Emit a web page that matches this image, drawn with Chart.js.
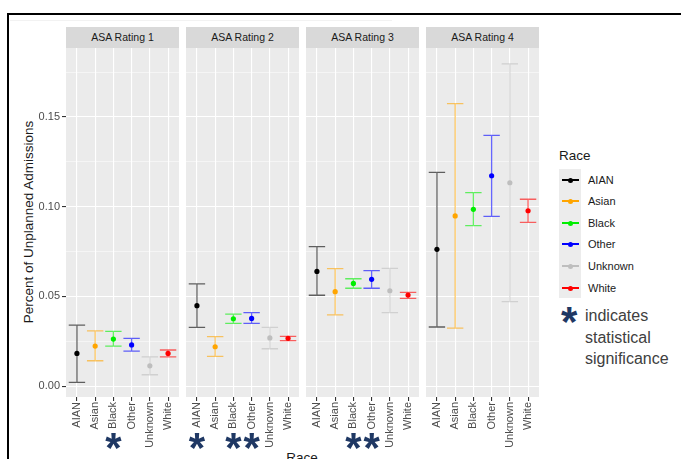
<!DOCTYPE html>
<html>
<head>
<meta charset="utf-8">
<script src="https://cdn.jsdelivr.net/npm/chart.js@4/dist/chart.umd.min.js"></script>
<style>
  body { margin: 0; background: #fff; font-family: "Liberation Sans", Arial, sans-serif; }
  #wrap { position: relative; width: 681px; height: 459px; overflow: hidden; }
  canvas { position: absolute; top: 48px; }
  .strip { position: absolute; top: 27px; height: 21px; background: #d9d9d9; color: #1a1a1a;
           font-size: 10.5px; line-height: 21px; text-align: center; }
  .leg-item { position: absolute; left: 588px; font-size: 11px; color: #1a1a1a; line-height: 12px; }
  .leg-line { position: absolute; left: 562px; width: 17px; height: 1.3px; }
  .leg-dot { position: absolute; width: 5px; height: 5px; border-radius: 50%; left: 568px; }
</style>
</head>
<body>
<div id="wrap">
  <div style="position:absolute;left:7px;top:13px;width:674px;height:2px;background:#000"></div>
  <div style="position:absolute;left:7px;top:13px;width:2px;height:446px;background:#000"></div>
  <div style="position:absolute;left:10px;top:20px;width:382px;height:1px;background:#f2f2f2"></div>
  <div id="ytitle" style="position:absolute;left:28px;top:222px;transform:translate(-50%,-50%) rotate(-90deg);white-space:nowrap;font-size:13.5px;color:#1a1a1a">Percent of Unplanned Admissions</div>
  <div style="position:absolute;left:302px;top:450px;transform:translateX(-50%);font-size:13.5px;color:#1a1a1a">Race</div>
  <div id="legend"></div>
</div>
<script>
// data
const races = ['AIAN', 'Asian', 'Black', 'Other', 'Unknown', 'White'];
const panels = ['ASA Rating 1', 'ASA Rating 2', 'ASA Rating 3', 'ASA Rating 4'];
const raceColors = ['#000000', '#ffa500', '#00ee00', '#0000ff', '#bebebe', '#ff0000'];
const barColors = ['rgba(0,0,0,0.6)', 'rgba(255,165,0,0.6)', 'rgba(0,238,0,0.6)', 'rgba(0,0,255,0.6)', 'rgba(190,190,190,0.6)', 'rgba(255,0,0,0.6)'];

const est1 = [0.0182, 0.0223, 0.0262, 0.0229, 0.0113, 0.0182];
const lo1 = [0.0020, 0.0141, 0.0223, 0.0195, 0.0063, 0.0163];
const hi1 = [0.0340, 0.0307, 0.0305, 0.0266, 0.0163, 0.0201];
const est2 = [0.0448, 0.0219, 0.0375, 0.0377, 0.0268, 0.0266];
const lo2 = [0.0327, 0.0165, 0.0349, 0.0349, 0.0208, 0.0253];
const hi2 = [0.0570, 0.0275, 0.0401, 0.0409, 0.0327, 0.0277];
const est3 = [0.0639, 0.0526, 0.0572, 0.0595, 0.0531, 0.0507];
const lo3 = [0.0506, 0.0397, 0.0545, 0.0545, 0.0409, 0.0489];
const hi3 = [0.0777, 0.0654, 0.0598, 0.0643, 0.0656, 0.0522];
const est4 = [0.0762, 0.0948, 0.0985, 0.1172, 0.1133, 0.0977];
const lo4 = [0.0329, 0.0323, 0.0894, 0.0946, 0.0470, 0.0912];
const hi4 = [0.1191, 0.1574, 0.1078, 0.1397, 0.1795, 0.1041];

const sig1 = ['Black'];
const sig2 = ['AIAN', 'Black', 'Other'];
const sig3 = ['Black', 'Other'];
const sig4 = [];

const yTicks = [0, 0.05, 0.10, 0.15];

const ests = [est1, est2, est3, est4];
const los = [lo1, lo2, lo3, lo4];
const his = [hi1, hi2, hi3, hi4];
const sigs = [sig1, sig2, sig3, sig4];

const wrap = document.getElementById('wrap');
const panelLeft = [66, 186, 306, 426];
const panelW = 113;
const yAxisW = 40;

const isMajor = v => yTicks.some(t => Math.abs(t - v) < 1e-9);

// no extra padding around the plot area, so all panels line up
const noPad = s => { s.paddingLeft = 0; s.paddingRight = 0; s.paddingTop = 0; s.paddingBottom = 0; };

// grey panel background
const panelBg = {
  id: 'panelBg',
  beforeDraw(chart) {
    const a = chart.chartArea, c = chart.ctx;
    c.save();
    c.fillStyle = '#ebebeb';
    c.fillRect(a.left, a.top, a.right - a.left, a.bottom - a.top);
    c.restore();
  }
};

// error bars with caps, drawn before the points
const errorBars = {
  id: 'errorBars',
  beforeDatasetsDraw(chart) {
    const p = chart.options.plugins.errorBars.panel;
    const x = chart.scales.x, y = chart.scales.y, c = chart.ctx;
    c.save();
    c.lineWidth = 1.3;
    races.forEach((r, i) => {
      const px = x.getPixelForValue(i);
      const half = x.getPixelForValue(i + 0.45) - px;
      const yl = y.getPixelForValue(los[p][i]);
      const yh = y.getPixelForValue(his[p][i]);
      c.strokeStyle = barColors[i];
      c.beginPath();
      c.moveTo(px, yl); c.lineTo(px, yh);
      c.moveTo(px - half, yl); c.lineTo(px + half, yl);
      c.moveTo(px - half, yh); c.lineTo(px + half, yh);
      c.stroke();
    });
    c.restore();
  },
  afterDraw(chart) {
    const p = chart.options.plugins.errorBars.panel;
    const x = chart.scales.x, c = chart.ctx;
    c.save();
    c.fillStyle = '#1f3864';
    c.font = 'bold 42px "Liberation Sans"';
    c.textAlign = 'center';
    c.textBaseline = 'alphabetic';
    const m = c.measureText('*');
    const cy = 441 - 48;
    const base = cy + (m.actualBoundingBoxAscent - m.actualBoundingBoxDescent) / 2;
    sigs[p].forEach(r => {
      const i = races.indexOf(r);
      c.fillText('*', x.getPixelForValue(i), base);
    });
    c.restore();
  }
};

panels.forEach((name, p) => {
  const strip = document.createElement('div');
  strip.className = 'strip';
  strip.style.left = panelLeft[p] + 'px';
  strip.style.width = panelW + 'px';
  strip.textContent = name;
  wrap.appendChild(strip);

  const cv = document.createElement('canvas');
  const extra = p === 0 ? yAxisW : 0;
  cv.width = panelW + extra;
  cv.height = 411;
  cv.style.left = (panelLeft[p] - extra) + 'px';
  wrap.appendChild(cv);

  new Chart(cv, {
    type: 'scatter',
    data: {
      datasets: [{
        data: races.map((r, i) => ({ x: i, y: ests[p][i] })),
        pointBackgroundColor: raceColors,
        pointBorderColor: raceColors,
        pointRadius: 2.6,
        borderWidth: 0
      }]
    },
    options: {
      responsive: false,
      animation: false,
      layout: { padding: 0, autoPadding: false },
      plugins: {
        legend: { display: false },
        tooltip: { enabled: false },
        errorBars: { panel: p }
      },
      scales: {
        x: {
          type: 'linear',
          min: -0.6,
          max: 5.6,
          afterFit: s => { s.height = 62; noPad(s); },
          border: { display: false },
          grid: { color: '#ffffff', lineWidth: 1.1, tickLength: 4, tickColor: '#333333' },
          ticks: {
            stepSize: 1,
            includeBounds: false,
            autoSkip: false,
            minRotation: 90,
            maxRotation: 90,
            padding: 1,
            color: '#4d4d4d',
            font: { family: 'Liberation Sans', size: 11 },
            callback: v => races[v]
          }
        },
        y: {
          min: -0.0061,
          max: 0.1884,
          afterFit: s => { s.width = extra; noPad(s); },
          border: { display: false },
          grid: {
            color: '#ffffff',
            lineWidth: ctx => isMajor(ctx.tick.value) ? 1.1 : 0.5,
            drawTicks: p === 0,
            tickLength: 4,
            tickColor: ctx => isMajor(ctx.tick.value) ? '#333333' : 'rgba(0,0,0,0)'
          },
          ticks: {
            display: p === 0,
            stepSize: 0.025,
            includeBounds: false,
            autoSkip: false,
            padding: 2,
            color: '#4d4d4d',
            font: { family: 'Liberation Sans', size: 11 },
            callback: v => isMajor(v) ? v.toFixed(2) : ''
          }
        }
      }
    },
    plugins: [panelBg, errorBars]
  });
});

// legend
const legend = document.getElementById('legend');
let html = '<div style="position:absolute;left:559px;top:148px;font-size:13.5px;color:#1a1a1a">Race</div>';
html += '<div style="position:absolute;left:559px;top:169px;width:22px;height:129px;background:#ececec"></div>';
const legY = [180, 201, 223, 244, 266, 288];
races.forEach((r, i) => {
  html += `<div class="leg-line" style="top:${legY[i] - 0.6}px;background:${raceColors[i]}"></div>`;
  html += `<div class="leg-dot" style="top:${legY[i] - 2.5}px;background:${raceColors[i]}"></div>`;
  html += `<div class="leg-item" style="top:${legY[i] - 6}px">${r}</div>`;
});
html += '<div id="legStar" style="position:absolute;left:561px;top:301px;font:bold 42px \'Liberation Sans\';color:#1f3864;line-height:42px">*</div>';
html += '<div style="position:absolute;left:585px;top:305px;font-size:16px;line-height:21.5px;color:#404040">indicates<br>statistical<br>significance</div>';
legend.innerHTML = html;
</script>
</body>
</html>
